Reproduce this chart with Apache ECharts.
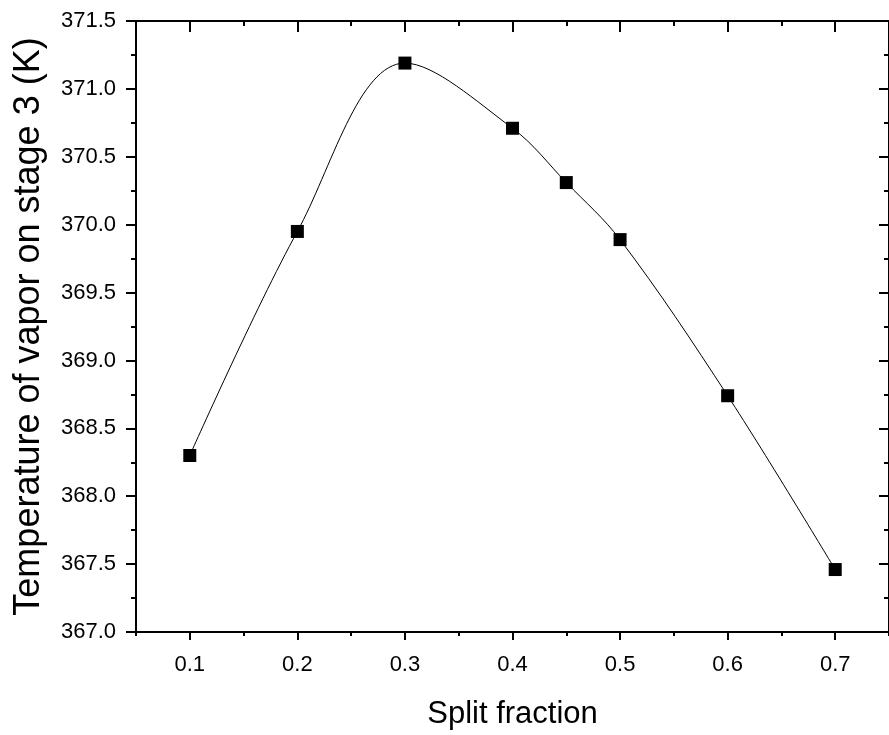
<!DOCTYPE html>
<html>
<head>
<meta charset="utf-8">
<script src="https://cdn.jsdelivr.net/npm/echarts@6/dist/echarts.min.js"></script>
<style>
html,body{margin:0;padding:0;background:#fff;}
#chart{width:889px;height:735px;}
</style>
</head>
<body>
<div id="chart"></div>
<script>
const splitFraction = [0.1, 0.2, 0.3, 0.4, 0.45, 0.5, 0.6, 0.7];
const vaporTemp = [368.30, 369.95, 371.19, 370.71, 370.31, 369.89, 368.74, 367.46];
const xMajorTicks = [0.1, 0.2, 0.3, 0.4, 0.5, 0.6, 0.7];
const xMinorTicks = [0.05, 0.15, 0.25, 0.35, 0.45, 0.55, 0.65, 0.75];
const xName = 'Split fraction';
const yName = 'Temperature of vapor on stage 3 (K)';

const FONT = 'Liberation Sans, Arial, Helvetica, sans-serif';
const black = '#000';

const chart = echarts.init(document.getElementById('chart'), null, {renderer: 'canvas'});

function xAxisBase(pos) {
  return {
    type: 'value', position: pos, min: 0.05, max: 0.75,
    splitLine: {show: false},
    axisLine: {show: false},
    axisLabel: {show: false},
    axisTick: {show: false}
  };
}

const xAxes = [];
let a = xAxisBase('bottom');
a.axisLine = {show: true, onZero: false, lineStyle: {color: black, width: 2}};
a.axisTick = {show: true, inside: false, length: 8, customValues: xMajorTicks, lineStyle: {color: black, width: 2}};
a.axisLabel = {show: true, customValues: xMajorTicks, margin: 22, fontSize: 22, color: black, fontFamily: FONT,
  formatter: v => v.toFixed(1)};
a.name = xName; a.nameLocation = 'middle'; a.nameGap = 67;
a.nameTextStyle = {fontSize: 31, color: black, fontFamily: FONT};
xAxes.push(a);
a = xAxisBase('bottom');
a.axisTick = {show: true, inside: false, length: 4, customValues: xMinorTicks, lineStyle: {color: black, width: 2}};
xAxes.push(a);
a = xAxisBase('top');
a.axisLine = {show: true, onZero: false, lineStyle: {color: black, width: 2}};
a.axisTick = {show: true, inside: true, length: 11, customValues: xMajorTicks, lineStyle: {color: black, width: 2}};
xAxes.push(a);
a = xAxisBase('top');
a.axisTick = {show: true, inside: true, length: 5, customValues: xMinorTicks, lineStyle: {color: black, width: 2}};
xAxes.push(a);

const yAxes = [
  {
    type: 'value', position: 'left', min: 367, max: 371.5, interval: 0.5,
    splitLine: {show: false},
    axisLine: {show: true, onZero: false, lineStyle: {color: black, width: 2}},
    axisTick: {show: true, inside: false, length: 10, lineStyle: {color: black, width: 2}},
    minorTick: {show: true, splitNumber: 2, length: 5, lineStyle: {color: black, width: 2}},
    axisLabel: {margin: 20, fontSize: 22, color: black, fontFamily: FONT, formatter: v => v.toFixed(1)},
    name: yName, nameLocation: 'middle', nameGap: 89,
    nameTextStyle: {fontSize: 36, color: black, fontFamily: FONT}
  },
  {
    type: 'value', position: 'right', min: 367, max: 371.5, interval: 0.5,
    splitLine: {show: false},
    axisLine: {show: true, onZero: false, lineStyle: {color: black, width: 2}},
    axisTick: {show: true, inside: true, length: 10, lineStyle: {color: black, width: 2}},
    minorTick: {show: true, splitNumber: 2, length: 5, lineStyle: {color: black, width: 2}},
    axisLabel: {show: false}
  }
];

chart.setOption({
  animation: false,
  backgroundColor: '#fff',
  grid: {left: 136, right: -3, top: 21, bottom: 103, containLabel: false},
  xAxis: xAxes,
  yAxis: yAxes,
  series: [{
    type: 'line',
    xAxisIndex: 0, yAxisIndex: 0,
    data: splitFraction.map((x, i) => [x, vaporTemp[i]]),
    smooth: 0.35,
    symbol: 'rect', symbolSize: 13,
    itemStyle: {color: black},
    lineStyle: {color: black, width: 1}
  }]
});
</script>
</body>
</html>
